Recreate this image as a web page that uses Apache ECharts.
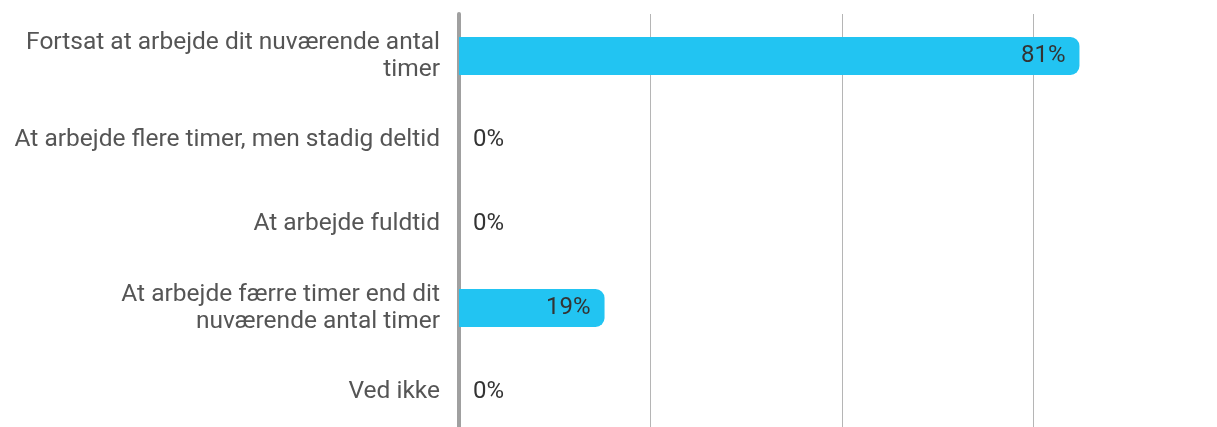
<!DOCTYPE html>
<html>
<head>
<meta charset="utf-8">
<script src="https://cdn.jsdelivr.net/npm/echarts@6/dist/echarts.min.js"></script>
<style>
  html, body { margin: 0; padding: 0; background: #fff; }
  #chart { width: 1217px; height: 427px; }
</style>
</head>
<body>
<div id="chart"></div>
<script>
const categories = [
  'Fortsat at arbejde dit nuværende antal\ntimer',
  'At arbejde flere timer, men stadig deltid',
  'At arbejde fuldtid',
  'At arbejde færre timer end dit\nnuværende antal timer',
  'Ved ikke'
];
const values = [81, 0, 0, 19, 0];

let myChart = echarts.init(document.getElementById('chart'));

const data = values.map((v) => ({
  value: v,
  label: v > 0
    ? { position: 'insideRight', distance: 14 }
    : { position: 'right', distance: 14 }
}));

let option = {
  animation: false,
  textStyle: { fontFamily: 'Roboto' },
  grid: {
    left: 459, top: 14, width: 766, height: 420,
    containLabel: false, outerBoundsMode: 'none'
  },
  xAxis: {
    type: 'value',
    min: 0,
    max: 100,
    interval: 25,
    axisLabel: { show: false },
    axisLine: { show: false },
    axisTick: { show: false },
    splitLine: { lineStyle: { color: '#b5b5b5', width: 1 } }
  },
  yAxis: {
    type: 'category',
    inverse: true,
    data: categories,
    axisTick: { show: false },
    axisLine: { show: true, lineStyle: { color: '#a0a0a0', width: 4 } },
    axisLabel: {
      margin: 19,
      fontSize: 24.5,
      lineHeight: 27,
      padding: [5, 0, 0, 0],
      color: '#555',
      align: 'right',
      fontFamily: 'Roboto'
    }
  },
  series: [{
    type: 'bar',
    data: data,
    barWidth: 38,
    itemStyle: { color: '#22c4f2', borderRadius: [0, 9, 9, 0] },
    label: {
      show: true,
      formatter: '{c}%',
      fontSize: 24,
      padding: [4, 0, 0, 0],
      color: '#333',
      fontFamily: 'Roboto'
    },
    z: 3
  }]
};
option && myChart.setOption(option);
</script>
</body>
</html>
